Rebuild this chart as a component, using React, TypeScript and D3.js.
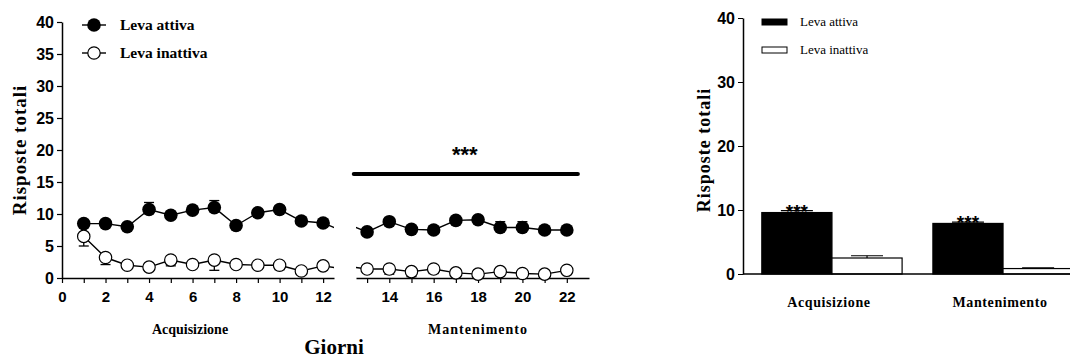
import React from "react";
import * as d3 from "d3";

const daysAcq = [1, 2, 3, 4, 5, 6, 7, 8, 9, 10, 11, 12];
const daysMan = [13, 14, 15, 16, 17, 18, 19, 20, 21, 22];
const activeAcq = [8.5, 8.5, 8.0, 10.7, 9.8, 10.6, 11.0, 8.2, 10.2, 10.7, 8.9, 8.6];
const activeAcqErr = [0.5, 0.5, 0.5, 1.1, 0.6, 0.5, 1.1, 0.5, 0.5, 0.6, 0.5, 0.5];
const inactAcq = [6.5, 3.2, 2.0, 1.7, 2.8, 2.1, 2.8, 2.1, 2.0, 2.0, 1.1, 1.9];
const inactAcqErr = [1.5, 1.1, 0.4, 0.4, 0.9, 0.4, 1.6, 0.4, 0.4, 0.7, 0.3, 0.4];
const activeMan = [7.2, 8.8, 7.6, 7.5, 9.0, 9.1, 7.9, 7.9, 7.5, 7.5];
const activeManErr = [0.4, 0.4, 0.4, 0.4, 0.4, 0.4, 0.9, 0.9, 0.4, 0.4];
const inactMan = [1.4, 1.4, 1.0, 1.4, 0.8, 0.6, 1.0, 0.7, 0.6, 1.2];
const inactManErr = [0.5, 0.8, 0.8, 0.7, 0.6, 0.5, 0.6, 0.6, 0.6, 0.5];

const yTicksLeft = [0, 5, 10, 15, 20, 25, 30, 35, 40];
const xTicksAcq = [0, 2, 4, 6, 8, 10, 12];
const xTicksMan = [14, 16, 18, 20, 22];

const phases = ["Acquisizione", "Mantenimento"];
const barActive = [9.6, 7.9];
const barActiveErr = [0.3, 0.2];
const barInactive = [2.5, 0.85];
const barInactiveErr = [0.35, 0.1];
const yTicksRight = [0, 10, 20, 30, 40];

const SANS = "'Liberation Sans', Arial, sans-serif";
const SERIF = "'Liberation Serif', 'Times New Roman', serif";

const App = () => {
  const ref = React.useRef<SVGSVGElement>(null);

  React.useEffect(() => {
    const svg = d3.select(ref.current);
    svg.selectAll("*").remove();

    // ---------- left panel: line chart with broken x axis ----------
    const y = d3.scaleLinear([0, 40], [278, 22]);
    const x1 = d3.scaleLinear([0, 12.5], [62, 334]);
    const x2 = d3.scaleLinear([12.5, 23], [356, 589]);

    const defs = svg.append("defs");
    defs.append("clipPath").attr("id", "seg1")
      .append("rect").attr("x", x1(0)).attr("y", 0).attr("width", x1(12.5) - x1(0)).attr("height", 360);
    defs.append("clipPath").attr("id", "seg2")
      .append("rect").attr("x", x2(12.5)).attr("y", 0).attr("width", x2(23) - x2(12.5)).attr("height", 360);

    // y axis
    const yAxis = svg.append("g").attr("transform", `translate(${x1(0)},0)`)
      .call(d3.axisLeft(y).tickValues(yTicksLeft).tickSize(5).tickPadding(3).tickSizeOuter(0));
    yAxis.selectAll("text").attr("font-family", SANS).attr("font-weight", "bold").attr("font-size", 16).attr("fill", "#000");

    // x axes
    const xa1 = svg.append("g").attr("transform", `translate(0,${y(0)})`)
      .call(d3.axisBottom(x1).tickValues(d3.range(0, 13)).tickSize(5).tickSizeOuter(0)
        .tickFormat(d => (xTicksAcq.includes(+d) ? String(d) : "")).tickPadding(8));
    const xa2 = svg.append("g").attr("transform", `translate(0,${y(0)})`)
      .call(d3.axisBottom(x2).tickValues(daysMan).tickSize(5).tickSizeOuter(0)
        .tickFormat(d => (xTicksMan.includes(+d) ? String(d) : "")).tickPadding(8));
    [yAxis, xa1, xa2].forEach(g => {
      g.select(".domain").attr("stroke-width", 1.5);
      g.selectAll(".tick line").attr("stroke-width", 1.2);
    });
    [xa1, xa2].forEach(g =>
      g.selectAll("text").attr("font-family", SANS).attr("font-weight", "bold").attr("font-size", 15).attr("fill", "#000"));

    const allDays = [...daysAcq, ...daysMan];
    const series = [
      { vals: [...activeAcq, ...activeMan], errs: [...activeAcqErr, ...activeManErr], filled: true, dir: 1 },
      { vals: [...inactAcq, ...inactMan], errs: [...inactAcqErr, ...inactManErr], filled: false, dir: -1 },
    ];

    [{ x: x1, clip: "seg1" }, { x: x2, clip: "seg2" }].forEach(({ x, clip }) => {
      const g = svg.append("g").attr("clip-path", `url(#${clip})`);
      series.forEach(s => {
        const pts = allDays.map((d, i) => ({ d, v: s.vals[i], e: s.errs[i] }));
        // error bars (one-sided)
        const eb = g.append("g").attr("stroke", "#000").attr("stroke-width", 1.3);
        pts.forEach(p => {
          const yEnd = y(p.v + s.dir * p.e);
          eb.append("line").attr("x1", x(p.d)).attr("x2", x(p.d)).attr("y1", y(p.v)).attr("y2", yEnd);
          eb.append("line").attr("x1", x(p.d) - 5).attr("x2", x(p.d) + 5).attr("y1", yEnd).attr("y2", yEnd);
        });
        g.append("path").datum(pts).attr("fill", "none").attr("stroke", "#000").attr("stroke-width", 1.4)
          .attr("d", d3.line<any>().x(p => x(p.d)).y(p => y(p.v)));
        g.selectAll(null).data(pts).enter().append("circle")
          .attr("cx", p => x(p.d)).attr("cy", p => y(p.v))
          .attr("r", s.filled ? 6.8 : 6.2)
          .attr("fill", s.filled ? "#000" : "#fff")
          .attr("stroke", "#000").attr("stroke-width", s.filled ? 0 : 1.2);
      });
    });

    // significance bar over maintenance
    svg.append("line").attr("x1", x2(12.4)).attr("x2", x2(22.5)).attr("y1", 174).attr("y2", 174)
      .attr("stroke", "#000").attr("stroke-width", 4).attr("stroke-linecap", "round");
    svg.append("text").attr("x", x2(17.4)).attr("y", 162).attr("text-anchor", "middle")
      .attr("font-family", SANS).attr("font-weight", "bold").attr("font-size", 22).text("***");

    // legend left
    const legL = svg.append("g");
    series.forEach((s, i) => {
      const ly = 25 + i * 28;
      legL.append("line").attr("x1", 82).attr("x2", 106).attr("y1", ly).attr("y2", ly).attr("stroke", "#000").attr("stroke-width", 1.4);
      legL.append("circle").attr("cx", 94).attr("cy", ly).attr("r", s.filled ? 6.8 : 6.2)
        .attr("fill", s.filled ? "#000" : "#fff").attr("stroke", "#000").attr("stroke-width", s.filled ? 0 : 1.2);
      legL.append("text").attr("x", 120).attr("y", ly + 5).attr("font-family", SERIF).attr("font-weight", "bold")
        .attr("font-size", 15.5).text(i === 0 ? "Leva attiva" : "Leva inattiva");
    });

    // left labels
    svg.append("text").attr("transform", `translate(26,150) rotate(-90)`).attr("text-anchor", "middle")
      .attr("font-family", SERIF).attr("font-weight", "bold").attr("font-size", 19).attr("letter-spacing", 1)
      .text("Risposte totali");
    svg.append("text").attr("x", 190).attr("y", 334).attr("text-anchor", "middle")
      .attr("font-family", SERIF).attr("font-weight", "bold").attr("font-size", 14).text("Acquisizione");
    svg.append("text").attr("x", x2(18)).attr("y", 334).attr("text-anchor", "middle")
      .attr("font-family", SERIF).attr("font-weight", "bold").attr("font-size", 14).attr("letter-spacing", 1).text("Mantenimento");
    svg.append("text").attr("x", 334).attr("y", 354).attr("text-anchor", "middle")
      .attr("font-family", SERIF).attr("font-weight", "bold").attr("font-size", 21).text("Giorni");

    // ---------- right panel: bar chart ----------
    const yR = d3.scaleLinear([0, 40], [274, 18]);
    const xR = d3.scaleBand(phases, [743, 1092]).paddingInner(0.18).paddingOuter(0.11);
    const xSub = d3.scaleBand(["active", "inactive"], [0, xR.bandwidth()]);

    const bars = svg.append("g");
    phases.forEach((ph, i) => {
      const groups = [
        { k: "active", v: barActive[i], e: barActiveErr[i], fill: "#000" },
        { k: "inactive", v: barInactive[i], e: barInactiveErr[i], fill: "#fff" },
      ];
      groups.forEach(b => {
        const bx = xR(ph)! + xSub(b.k)!;
        const cx = bx + xSub.bandwidth() / 2;
        bars.append("line").attr("x1", cx).attr("x2", cx).attr("y1", yR(b.v)).attr("y2", yR(b.v + b.e))
          .attr("stroke", "#000").attr("stroke-width", 1.2);
        bars.append("line").attr("x1", cx - 16).attr("x2", cx + 16).attr("y1", yR(b.v + b.e)).attr("y2", yR(b.v + b.e))
          .attr("stroke", "#000").attr("stroke-width", 1.2);
        bars.append("rect").attr("x", bx).attr("y", yR(b.v)).attr("width", xSub.bandwidth())
          .attr("height", yR(0) - yR(b.v)).attr("fill", b.fill).attr("stroke", "#000").attr("stroke-width", 1.2);
      });
      bars.append("text").attr("x", xR(ph)! + xSub.bandwidth() / 2).attr("y", yR(barActive[i] + barActiveErr[i]) + 7)
        .attr("text-anchor", "middle").attr("font-family", SANS).attr("font-weight", "bold").attr("font-size", 19).text("***");
      svg.append("text").attr("x", xR(ph)! + xR.bandwidth() / 2 - 3).attr("y", 307).attr("text-anchor", "middle")
        .attr("font-family", SERIF).attr("font-weight", "bold").attr("font-size", 14).attr("letter-spacing", 0.6).text(ph);
    });

    const yAxR = svg.append("g").attr("transform", `translate(743,0)`)
      .call(d3.axisLeft(yR).tickValues(yTicksRight).tickSize(5).tickPadding(3).tickSizeOuter(0));
    yAxR.select(".domain").attr("stroke-width", 1.5);
    yAxR.selectAll("text").attr("font-family", SANS).attr("font-weight", "bold").attr("font-size", 16).attr("fill", "#000");
    svg.append("line").attr("x1", 743).attr("x2", 1070).attr("y1", yR(0)).attr("y2", yR(0))
      .attr("stroke", "#000").attr("stroke-width", 1.5);

    svg.append("text").attr("transform", `translate(710,150) rotate(-90)`).attr("text-anchor", "middle")
      .attr("font-family", SERIF).attr("font-weight", "bold").attr("font-size", 18).attr("letter-spacing", 1)
      .text("Risposte totali");

    // legend right
    ["Leva attiva", "Leva inattiva"].forEach((t, i) => {
      const ly = 22 + i * 28;
      svg.append("rect").attr("x", 762).attr("y", ly - 3).attr("width", 25).attr("height", 6)
        .attr("fill", i === 0 ? "#000" : "#fff").attr("stroke", "#000").attr("stroke-width", 1);
      svg.append("text").attr("x", 800).attr("y", ly + 4).attr("font-family", SERIF).attr("font-size", 13).text(t);
    });
  }, []);

  return <svg ref={ref} width={1070} height={360} style={{ position: "absolute", left: 0, top: 0, background: "#fff" }} />;
};

export default App;
